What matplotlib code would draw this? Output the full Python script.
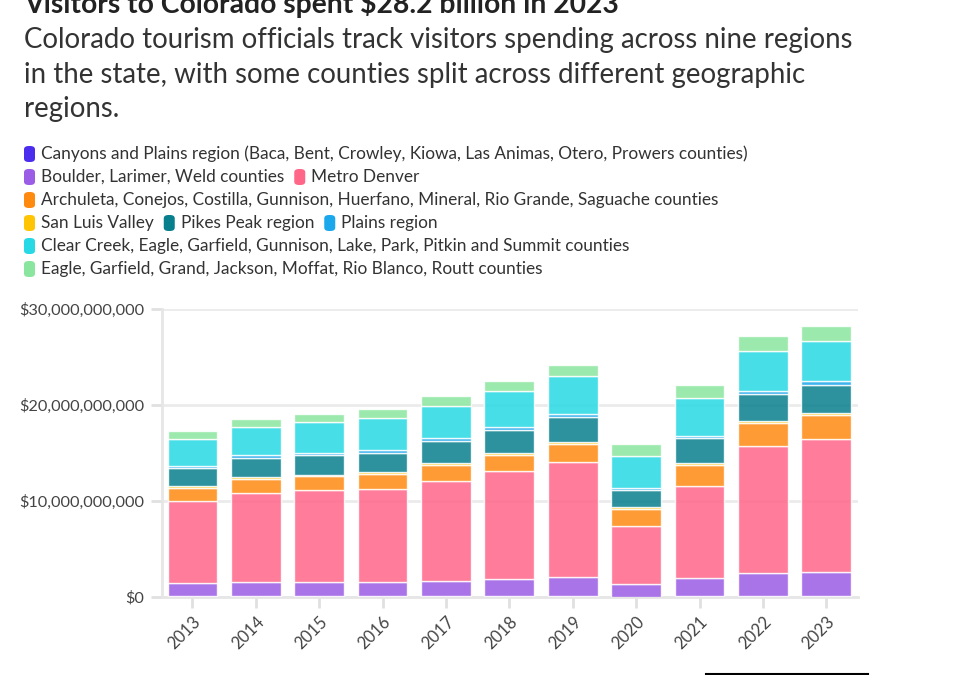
import matplotlib
matplotlib.use("Agg")
import matplotlib.pyplot as plt
from matplotlib.patches import FancyBboxPatch
from matplotlib.ticker import FuncFormatter
import numpy as np

W, H = 958, 675

years = ["2013", "2014", "2015", "2016", "2017", "2018", "2019", "2020", "2021", "2022", "2023"]

# visitor spending, billions of dollars
canyons_plains = [0.06, 0.06, 0.06, 0.06, 0.06, 0.06, 0.06, 0.05, 0.06, 0.07, 0.07]
boulder_larimer_weld = [1.43, 1.50, 1.53, 1.53, 1.64, 1.84, 2.02, 1.26, 1.88, 2.39, 2.49]
metro_denver = [8.54, 9.27, 9.52, 9.69, 10.38, 11.21, 12.00, 6.09, 9.65, 13.28, 13.95]
archuleta_etc = [1.32, 1.49, 1.45, 1.52, 1.62, 1.70, 1.87, 1.77, 2.18, 2.36, 2.42]
san_luis_valley = [0.22, 0.17, 0.17, 0.18, 0.21, 0.21, 0.21, 0.21, 0.21, 0.20, 0.20]
pikes_peak = [1.84, 1.94, 2.05, 2.07, 2.32, 2.42, 2.59, 1.73, 2.56, 2.88, 2.98]
plains_region = [0.24, 0.31, 0.27, 0.31, 0.31, 0.31, 0.32, 0.27, 0.28, 0.27, 0.35]
clear_creek_etc = [2.77, 2.98, 3.15, 3.33, 3.32, 3.67, 3.91, 3.29, 3.94, 4.22, 4.25]
eagle_garfield_etc = [0.83, 0.83, 0.90, 0.89, 1.04, 1.04, 1.14, 1.25, 1.32, 1.49, 1.49]

series = [
    ("Canyons and Plains region (Baca, Bent, Crowley, Kiowa, Las Animas, Otero, Prowers counties)", canyons_plains, "#4a2ded"),
    ("Boulder, Larimer, Weld counties", boulder_larimer_weld, "#9b5ce6"),
    ("Metro Denver", metro_denver, "#ff6688"),
    ("Archuleta, Conejos, Costilla, Gunnison, Huerfano, Mineral, Rio Grande, Saguache counties", archuleta_etc, "#ff8a10"),
    ("San Luis Valley", san_luis_valley, "#ffc505"),
    ("Pikes Peak region", pikes_peak, "#087f8c"),
    ("Plains region", plains_region, "#1ba7ec"),
    ("Clear Creek, Eagle, Garfield, Gunnison, Lake, Park, Pitkin and Summit counties", clear_creek_etc, "#27d9e5"),
    ("Eagle, Garfield, Grand, Jackson, Moffat, Rio Blanco, Routt counties", eagle_garfield_etc, "#8ae69e"),
]

legend_rows = [[0], [1, 2], [3], [4, 5, 6], [7], [8]]

plt.rcParams["font.family"] = ["Lato", "DejaVu Sans"]

fig = plt.figure(figsize=(W / 100, H / 100), dpi=100)


def px(x, y):
    return x / W, 1 - y / H


# title block
fig.text(*px(24, 13), "Visitors to Colorado spent $28.2 billion in 2023",
         fontsize=20.3, fontweight="bold", color="#222222", va="baseline")
subtitle = ["Colorado tourism officials track visitors spending across nine regions",
            "in the state, with some counties split across different geographic",
            "regions."]
for i, line in enumerate(subtitle):
    fig.text(*px(24, 48 + i * 34.5), line, fontsize=19.9, color="#333333", va="baseline")

# legend drawn by hand, rows of items
fig.canvas.draw()
renderer = fig.canvas.get_renderer()
for r, row in enumerate(legend_rows):
    y = 154 + r * 23
    x = 24
    for idx in row:
        label, _, color = series[idx]
        fig.patches.append(FancyBboxPatch(px(x, y + 8), 11 / W, 16 / H,
                                          boxstyle="round,pad=0,rounding_size=0.005",
                                          transform=fig.transFigure, facecolor=color,
                                          edgecolor="none"))
        t = fig.text(*px(x + 17, y), label, fontsize=12.4, color="#333333", va="center")
        bb = t.get_window_extent(renderer)
        x = x + 17 + bb.width + 10

ax = fig.add_axes([162 / W, 1 - 597 / H, (858 - 162) / W, (597 - 309) / H])

xpos = np.arange(len(years))
bottom = np.zeros(len(years))
for label, vals, color in series:
    v = np.array(vals) * 1e9
    ax.bar(xpos, v, 0.785, bottom=bottom, color=color, alpha=0.85,
           edgecolor="white", linewidth=1, zorder=3)
    bottom += v

ax.set_xlim(-0.48, 10.5)
ax.set_ylim(0, 30e9)
ax.set_yticks([0, 10e9, 20e9, 30e9])
ax.yaxis.set_major_formatter(FuncFormatter(lambda v, p: "${:,.0f}".format(v)))
ax.set_xticks(xpos)
ax.set_xticklabels(years, rotation=45, ha="right", va="top", rotation_mode="anchor")

ax.grid(axis="y", color="#ebebeb", linewidth=2, zorder=0)
for s in ["top", "right"]:
    ax.spines[s].set_visible(False)
for s in ["left", "bottom"]:
    ax.spines[s].set_color("#e6e6e6")
    ax.spines[s].set_linewidth(2)
ax.tick_params(axis="both", colors="#e0e0e0", width=2, length=8,
               labelcolor="#444444", labelsize=11.7)
ax.tick_params(axis="y", pad=5)
ax.tick_params(axis="x", labelsize=12, pad=4)

# stray rule at the bottom edge of the page
fig.add_artist(plt.Line2D([706 / W, 868 / W], [1 - 674 / H, 1 - 674 / H],
                          color="black", linewidth=1.5, transform=fig.transFigure))

fig.savefig("out.png", dpi=100)
